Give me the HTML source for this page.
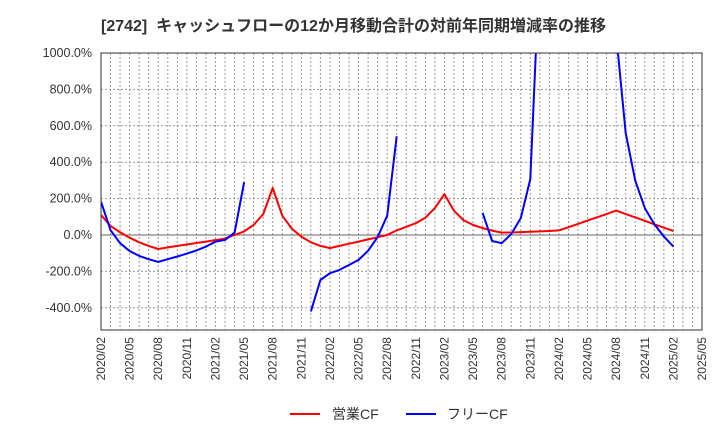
<!DOCTYPE html>
<html><head><meta charset="utf-8"><style>
body{margin:0;background:#fff;}
svg text{font-family:"Liberation Sans","Noto Sans CJK JP",sans-serif;}
</style></head><body>
<svg id="chart" width="720" height="440">
<text x="101" y="31" font-size="16" font-weight="bold" fill="#333" xml:space="preserve" style="white-space:pre">[2742]  キャッシュフローの12か月移動合計の対前年同期増減率の推移</text>
<defs><clipPath id="clip"><rect x="101" y="53" width="601" height="277"/></clipPath></defs>
<g id="grid"></g>
<g id="series" clip-path="url(#clip)"></g>
<rect x="101" y="53" width="601" height="277" fill="none" stroke="#333" stroke-width="1"/>
<g id="labels"></g>
<g>
<line x1="290" y1="414" x2="320" y2="414" stroke="#f00" stroke-width="2"/>
<text x="332" y="419" font-size="14" fill="#333">営業CF</text>
<line x1="406" y1="414" x2="436" y2="414" stroke="#00f" stroke-width="2"/>
<text x="447" y="419" font-size="14" fill="#333">フリーCF</text>
</g>
</svg>
<script>
const yTicks=[-400,-200,0,200,400,600,800,1000];
const xTickLabels=["2020/02","2020/05","2020/08","2020/11","2021/02","2021/05","2021/08","2021/11","2022/02","2022/05","2022/08","2022/11","2023/02","2023/05","2023/08","2023/11","2024/02","2024/05","2024/08","2024/11","2025/02","2025/05"];
const operatingCF=[110,50,15,-15,-40,-60,-77,-68,-60,-52,-44,-36,-28,-20,0,20,55,115,258,106,35,-9,-40,-60,-72,-60,-48,-36,-24,-12,0,25,45,65,95,148,225,133,82,55,38,24,13,14,16,18,20,22,25,43,61,79,97,115,134,115,97,78,59,40,22];
const freeCF=[183,27,-45,-88,-115,-133,-148,-133,-118,-102,-85,-64,-37,-27,13,290,null,null,null,null,null,null,-420,-247,-210,-192,-165,-137,-86,-11,106,543,null,null,null,null,null,null,null,null,122,-33,-45,5,93,307,1500,null,null,null,null,null,null,null,1100,560,300,148,60,-9,-64];
const NS="http://www.w3.org/2000/svg";
const X0=101,XW=9.54,Y0=235,YK=0.182;
const xs=i=>X0+i*XW, ys=v=>Y0-v*YK;
const grid=document.getElementById('grid'),labels=document.getElementById('labels'),series=document.getElementById('series');
function mk(tag,attrs,parent){const e=document.createElementNS(NS,tag);for(const k in attrs)e.setAttribute(k,attrs[k]);parent.appendChild(e);return e;}
for(let i=1;i<63;i++){
 const l=mk('line',{x1:xs(i),x2:xs(i),y1:53,y2:330,stroke:'#999','stroke-dasharray':'2,2','stroke-width':1},grid);
 
 
}
yTicks.forEach(v=>{
 const l=mk('line',{x1:101,x2:702,y1:ys(v),y2:ys(v),stroke:v===0?'#666':'#999','stroke-dasharray':v===0?'':'2,2','stroke-width':1},grid);
 
 
 const t=mk('text',{x:92,y:ys(v)+4,'text-anchor':'end','font-size':12.5,fill:'#333'},labels);
 t.textContent=v.toFixed(1)+'%';
 
 
});
xTickLabels.forEach((s,k)=>{
 const x=xs(k*3);
 const t=mk('text',{x:0,y:0,transform:`translate(${x+4},337) rotate(-90)`,'text-anchor':'end','font-size':12,fill:'#333'},labels);
 t.textContent=s;
 
 
});
function draw(data,color,name){
 let d='',pen=false;
 data.forEach((v,i)=>{if(v===null){pen=false;return;}d+=(pen?'L':'M')+xs(i).toFixed(1)+','+ys(v).toFixed(1);pen=true;});
 const p=mk('path',{d:d,fill:'none',stroke:color,'stroke-width':2,'stroke-linejoin':'round'},series);
 
 
}
draw(operatingCF,'#f00','operating-cf-line');
draw(freeCF,'#00f','free-cf-line');
</script>
</body></html>
